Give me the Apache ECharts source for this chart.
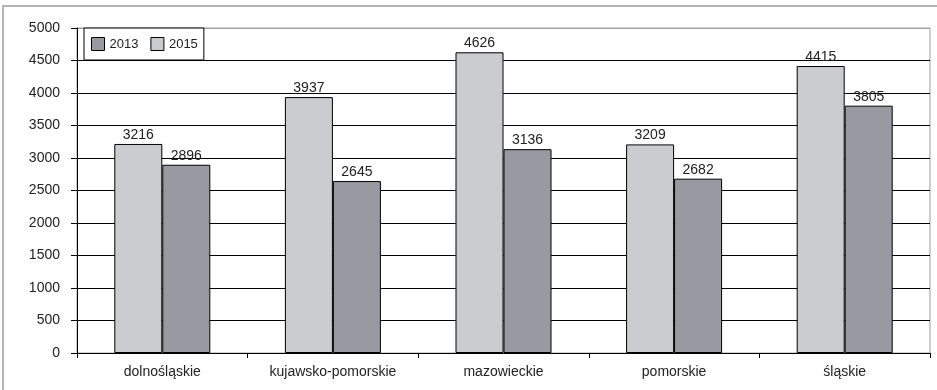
<!DOCTYPE html>
<html>
<head>
<meta charset="utf-8">
<script src="https://cdn.jsdelivr.net/npm/echarts@6/dist/echarts.min.js"></script>
<style>
  html, body { margin: 0; padding: 0; background: #fff; }
  #chart { width: 937px; height: 390px; }
</style>
</head>
<body>
<div id="chart"></div>
<script>
// Regions (voivodeships) on the category axis
const regions = ['dolnośląskie', 'kujawsko-pomorskie', 'mazowieckie', 'pomorskie', 'śląskie'];
// Values per year
const values2015 = [3216, 3937, 4626, 3209, 4415];
const values2013 = [2896, 2645, 3136, 2682, 3805];
// Value axis ticks
const yMin = 0, yMax = 5000, yStep = 500;

const FONT = '"Liberation Sans", Arial, sans-serif';
const LIGHT = '#cbccd0';
const DARK = '#979aa1';

// Horizontal grid lines: black, except the topmost one which is part of the light frame
const gridColors = [];
for (let v = yMin; v <= yMax; v += yStep) gridColors.push(v === yMax ? '#a0a0a0' : '#000');

const chart = echarts.init(document.getElementById('chart'), null, { renderer: 'canvas' });

const labelStyle = {
  show: true, position: 'top', distance: 2,
  color: '#222', fontFamily: FONT, fontSize: 14
};

chart.setOption({
  animation: false,
  backgroundColor: '#fff',
  textStyle: { fontFamily: FONT },
  graphic: [{
    type: 'rect',
    shape: { x: 3, y: 6, width: 960, height: 420 },
    style: { fill: 'none', stroke: '#b4b4b4', lineWidth: 2 },
    silent: true, z: -1
  }],
  grid: {
    left: 77, right: 7, top: 28, bottom: 37,
    show: true, borderColor: '#a0a0a0', borderWidth: 1, backgroundColor: 'transparent'
  },
  legend: {
    left: 84, top: 28,
    data: ['2013', '2015'],
    icon: 'rect',
    itemWidth: 13, itemHeight: 13,
    itemGap: 12,
    padding: [9, 6, 9, 7],
    borderColor: '#000', borderWidth: 1,
    backgroundColor: '#fff',
    textStyle: { fontFamily: FONT, fontSize: 13, color: '#222' },
    itemStyle: { borderColor: '#000', borderWidth: 1 }
  },
  xAxis: {
    type: 'category',
    data: regions,
    axisLine: { lineStyle: { color: '#000', width: 1 } },
    axisTick: { show: true, length: 5, lineStyle: { color: '#000' } },
    axisLabel: { color: '#222', fontSize: 14, margin: 12, fontFamily: FONT },
    splitLine: { show: false }
  },
  yAxis: {
    type: 'value',
    min: yMin, max: yMax, interval: yStep,
    axisLine: { show: true, lineStyle: { color: '#000', width: 1 } },
    axisTick: { show: true, length: 6, lineStyle: { color: '#000' } },
    axisLabel: {
      color: '#222', fontSize: 14, margin: 17, fontFamily: FONT,
      formatter: v => String(v)
    },
    splitLine: { show: true, lineStyle: { color: gridColors, width: 1 } }
  },
  series: [
    {
      name: '2015', type: 'bar', data: values2015,
      barWidth: 48, barGap: '0%',
      itemStyle: { color: LIGHT, borderColor: '#000', borderWidth: 1 },
      label: labelStyle
    },
    {
      name: '2013', type: 'bar', data: values2013,
      barWidth: 48, barGap: '0%',
      itemStyle: { color: DARK, borderColor: '#000', borderWidth: 1 },
      label: labelStyle
    }
  ]
});
</script>
</body>
</html>
